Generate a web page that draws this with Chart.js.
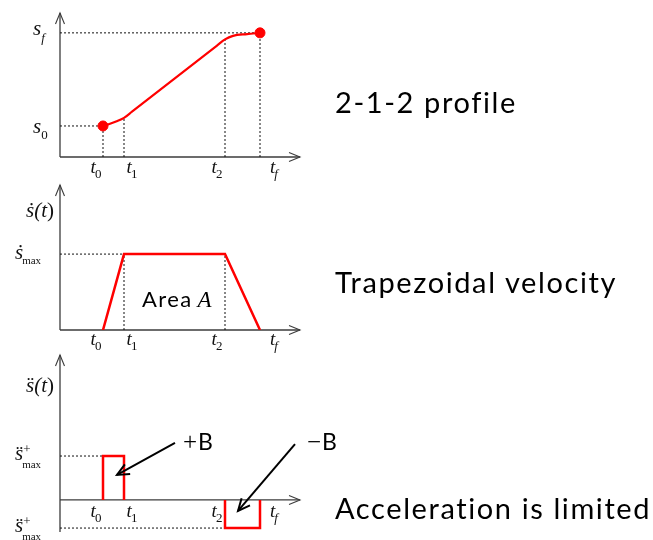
<!DOCTYPE html>
<html>
<head>
<meta charset="utf-8">
<script src="https://cdn.jsdelivr.net/npm/chart.js@4.4.1/dist/chart.umd.min.js"></script>
<style>
  html, body { margin: 0; padding: 0; background: #fff; }
  body { width: 653px; height: 540px; position: relative; overflow: hidden; }
  canvas { position: absolute; left: 0; top: 0; }
  .cap { position: absolute; left: 335px; font-family: Lato, "Open Sans", sans-serif;
         font-size: 29px; line-height: 29px; letter-spacing: 1.6px; color: #000; white-space: nowrap; }
</style>
</head>
<body>
<canvas id="pos" width="653" height="540"></canvas>
<canvas id="vel" width="653" height="540"></canvas>
<canvas id="acc" width="653" height="540"></canvas>
<div class="cap" style="top:87px">2-1-2 profile</div>
<div class="cap" style="top:267px">Trapezoidal velocity</div>
<div class="cap" style="top:493px">Acceleration is limited</div>

<script>
// Switching instants t0, t1, t2, tf and their subscripts
const T = [2.15, 3.2, 8.25, 10.0];
const T_SUBS = ['0', '1', '2', 'f'];

// Position s(t): parabolic blend, straight segment, parabolic blend
const POS_T = [2.15, 2.4, 2.8, 3.2, 3.6, 7.85, 8.25, 8.65, 9.35, 10.0];
const POS_S = [0.25, 0.262, 0.286, 0.315, 0.365, 0.898, 0.948, 0.976, 0.99, 1.0];

// Velocity ds/dt: trapezoid
const VEL_T = [2.15, 3.2, 8.25, 10.0];
const VEL_V = [0, 1, 1, 0];

// Acceleration levels: +B during [t0,t1], -B during [t2,tf]
const ACC_UP = 1.0;
const ACC_DOWN = -0.64;

const RED = '#ff0000';
const AXIS = '#3c3c3c';
const MATH = '"Liberation Serif", "DejaVu Serif", serif';
const SANS = 'Lato, "Open Sans", sans-serif';

const pts = (xs, ys) => xs.map((x, i) => ({ x, y: ys[i] }));
const sAt = t => POS_S[POS_T.indexOf(t)];

function guide(a, b) {
  return { data: [a, b], showLine: true, borderColor: '#111', borderWidth: 1,
           borderDash: [2, 2], pointRadius: 0, order: 5 };
}

// Draw runs of text left to right; items: {text, font, dx, dy, keep, ls}
function runs(ctx, items, x, y, align) {
  let w = 0;
  items.forEach(it => {
    ctx.font = it.font;
    ctx.letterSpacing = (it.ls || 0) + 'px';
    it.w = it.keep ? 0 : ctx.measureText(it.text).width + (it.dx || 0);
    w += it.w;
  });
  let cx = align === 'right' ? x - w : align === 'center' ? x - w / 2 : x;
  items.forEach(it => {
    ctx.font = it.font;
    ctx.letterSpacing = (it.ls || 0) + 'px';
    ctx.fillText(it.text, cx + (it.dx || 0), y + (it.dy || 0));
    cx += it.w;
  });
  ctx.letterSpacing = '0px';
}

function arrowHead(ctx, x1, y1, x2, y2, len, half) {
  const a = Math.atan2(y2 - y1, x2 - x1);
  ctx.beginPath();
  ctx.moveTo(x2 - len * Math.cos(a) + half * Math.sin(a), y2 - len * Math.sin(a) - half * Math.cos(a));
  ctx.lineTo(x2, y2);
  ctx.lineTo(x2 - len * Math.cos(a) - half * Math.sin(a), y2 - len * Math.sin(a) + half * Math.cos(a));
  ctx.stroke();
}

function drawAxes(chart) {
  const { ctx, scales: { x, y } } = chart;
  const x0 = x.getPixelForValue(0), y0 = y.getPixelForValue(0);
  const xEnd = x.getPixelForValue(x.max);
  const yTop = y.getPixelForValue(y.max), yBot = y.getPixelForValue(y.min);
  ctx.save();
  ctx.strokeStyle = AXIS;
  ctx.lineWidth = 1.3;
  ctx.beginPath();
  ctx.moveTo(x0, yBot); ctx.lineTo(x0, yTop);
  ctx.moveTo(x0, y0); ctx.lineTo(xEnd, y0);
  ctx.stroke();
  ctx.lineWidth = 1.1;
  arrowHead(ctx, x0, yBot, x0, yTop, 11, 4.5);
  arrowHead(ctx, x0, y0, xEnd, y0, 11, 4.5);
  ctx.restore();
}

// t-labels below the time axis
const T_SHIFT = [-7, 8, -8, 14];
function drawTimeLabels(chart, which, drop) {
  const { ctx, scales: { x, y } } = chart;
  const base = y.getPixelForValue(0) + drop;
  ctx.save();
  ctx.fillStyle = '#111';
  which.forEach(i => {
    const sub = T_SUBS[i];
    runs(ctx, [
      { text: 't', font: `italic 19px ${MATH}` },
      { text: sub, font: (sub === 'f' ? 'italic ' : '') + `13px ${MATH}`, dx: -1, dy: 5 }
    ], x.getPixelForValue(T[i]) + T_SHIFT[i], base, 'center');
  });
  ctx.restore();
}

const common = (pad, ymin, ymax) => ({
  responsive: false,
  animation: false,
  events: [],
  layout: { padding: pad },
  plugins: { legend: { display: false }, tooltip: { enabled: false } },
  scales: {
    x: { type: 'linear', min: 0, max: 12, display: false },
    y: { type: 'linear', min: ymin, max: ymax, display: false }
  }
});

/* ---------- position ---------- */
const S0 = POS_S[0], SF = POS_S[POS_S.length - 1];
new Chart(document.getElementById('pos'), {
  type: 'scatter',
  data: {
    datasets: [
      { data: [{ x: T[0], y: S0 }, { x: T[3], y: SF }],
        pointRadius: 5, pointBackgroundColor: RED, pointBorderColor: RED, order: 0 },
      { data: pts(POS_T, POS_S), showLine: true, borderColor: RED, borderWidth: 2.2,
        cubicInterpolationMode: 'monotone', borderJoinStyle: 'round', pointRadius: 0, order: 1 },
      guide({ x: 0, y: SF }, { x: T[3], y: SF }),
      guide({ x: 0, y: S0 }, { x: T[0], y: S0 }),
      ...T.map(t => guide({ x: t, y: 0 }, { x: t, y: sAt(t) }))
    ]
  },
  options: common({ left: 60, right: 353, top: 13, bottom: 383 }, 0, 1.16),
  plugins: [{
    id: 'posDecor',
    beforeDatasetsDraw: drawAxes,
    afterDraw(chart) {
      const { ctx, scales: { x, y } } = chart;
      const lx = x.getPixelForValue(0) - 27;
      ctx.save();
      ctx.fillStyle = '#111';
      runs(ctx, [{ text: 's', font: `italic 21px ${MATH}` },
                 { text: 'f', font: `italic 13px ${MATH}`, dx: 0, dy: 7 }],
           lx, y.getPixelForValue(SF) + 2, 'left');
      runs(ctx, [{ text: 's', font: `italic 21px ${MATH}` },
                 { text: '0', font: `13px ${MATH}`, dx: 0, dy: 6 }],
           lx, y.getPixelForValue(S0) + 7, 'left');
      ctx.restore();
      drawTimeLabels(chart, [0, 1, 2, 3], 16);
    }
  }]
});

/* ---------- velocity ---------- */
const VMAX = Math.max(...VEL_V);
new Chart(document.getElementById('vel'), {
  type: 'scatter',
  data: {
    datasets: [
      { data: pts(VEL_T, VEL_V), showLine: true, borderColor: RED, borderWidth: 2.5,
        pointRadius: 0, order: 1 },
      guide({ x: 0, y: VMAX }, { x: T[1], y: VMAX }),
      guide({ x: T[1], y: 0 }, { x: T[1], y: VMAX }),
      guide({ x: T[2], y: 0 }, { x: T[2], y: VMAX })
    ]
  },
  options: common({ left: 60, right: 353, top: 185, bottom: 210 }, 0, 1.91),
  plugins: [{
    id: 'velDecor',
    beforeDatasetsDraw: drawAxes,
    afterDraw(chart) {
      const { ctx, scales: { x, y } } = chart;
      const ax = x.getPixelForValue(0);
      ctx.save();
      ctx.fillStyle = '#111';
      runs(ctx, [{ text: '\u1E61(', font: `italic 21px ${MATH}` },
                 { text: 't', font: `italic 21px ${MATH}` },
                 { text: ')', font: `21px ${MATH}` }],
           ax - 6, y.getPixelForValue(0) - 113, 'right');
      runs(ctx, [{ text: '\u1E61', font: `italic 21px ${MATH}` },
                 { text: 'max', font: `11px ${MATH}`, dx: -1, dy: 5 }],
           ax - 45, y.getPixelForValue(VMAX) + 5, 'left');
      // area label under the plateau
      ctx.fillStyle = '#000';
      runs(ctx, [{ text: 'Area', font: `22px ${SANS}`, ls: 1.4 },
                 { text: 'A', font: `italic 23px ${MATH}`, dx: 5 }],
           x.getPixelForValue(4.1), y.getPixelForValue(0.3), 'left');
      ctx.restore();
      drawTimeLabels(chart, [0, 1, 2, 3], 15);
    }
  }]
});

/* ---------- acceleration ---------- */
new Chart(document.getElementById('acc'), {
  type: 'scatter',
  data: {
    datasets: [
      { data: [{ x: T[0], y: 0 }, { x: T[0], y: ACC_UP }, { x: T[1], y: ACC_UP }, { x: T[1], y: 0 }],
        showLine: true, borderColor: RED, borderWidth: 2.5, pointRadius: 0, order: 1 },
      { data: [{ x: T[2], y: 0 }, { x: T[2], y: ACC_DOWN }, { x: T[3], y: ACC_DOWN }, { x: T[3], y: 0 }],
        showLine: true, borderColor: RED, borderWidth: 2.5, pointRadius: 0, order: 1 },
      guide({ x: 0, y: ACC_UP }, { x: T[0], y: ACC_UP }),
      guide({ x: 0, y: ACC_DOWN }, { x: T[2], y: ACC_DOWN })
    ]
  },
  options: common({ left: 60, right: 353, top: 355, bottom: 8 }, -0.73, 3.3),
  plugins: [{
    id: 'accDecor',
    beforeDatasetsDraw: drawAxes,
    afterDraw(chart) {
      const { ctx, scales: { x, y } } = chart;
      const ax = x.getPixelForValue(0);
      ctx.save();
      ctx.fillStyle = '#111';
      runs(ctx, [{ text: 's\u0308(', font: `italic 21px ${MATH}` },
                 { text: 't', font: `italic 21px ${MATH}` },
                 { text: ')', font: `21px ${MATH}` }],
           ax - 6, y.getPixelForValue(0) - 108, 'right');
      [ACC_UP, ACC_DOWN].forEach(level => {
        const by = y.getPixelForValue(level) + 4;
        runs(ctx, [{ text: 's\u0308', font: `italic 21px ${MATH}` },
                   { text: '+', font: `13px ${MATH}`, dx: 0, dy: -7, keep: true },
                   { text: 'max', font: `11px ${MATH}`, dx: -1, dy: 8 }],
             ax - 45, by, 'left');
      });

      // +B / -B call-outs pointing into the pulses
      ctx.strokeStyle = '#000';
      ctx.fillStyle = '#000';
      ctx.lineWidth = 2;
      const callout = (fx, fy, tx, ty) => {
        const x1 = x.getPixelForValue(fx), y1 = y.getPixelForValue(fy);
        const x2 = x.getPixelForValue(tx), y2 = y.getPixelForValue(ty);
        ctx.beginPath(); ctx.moveTo(x1, y1); ctx.lineTo(x2, y2); ctx.stroke();
        arrowHead(ctx, x1, y1, x2, y2, 12, 5.5);
      };
      callout(5.75, 1.3, 2.85, 0.57);
      callout(11.75, 1.27, 8.9, -0.25);
      runs(ctx, [{ text: '+', font: `25px ${MATH}` }, { text: 'B', font: `23px ${SANS}`, dx: 1 }],
           x.getPixelForValue(6.15), y.getPixelForValue(1.14), 'left');
      runs(ctx, [{ text: '\u2212', font: `25px ${MATH}` }, { text: 'B', font: `23px ${SANS}`, dx: 1 }],
           x.getPixelForValue(12.35), y.getPixelForValue(1.14), 'left');
      ctx.restore();
      drawTimeLabels(chart, [0, 1, 2, 3], 17);
    }
  }]
});
</script>
</body>
</html>
